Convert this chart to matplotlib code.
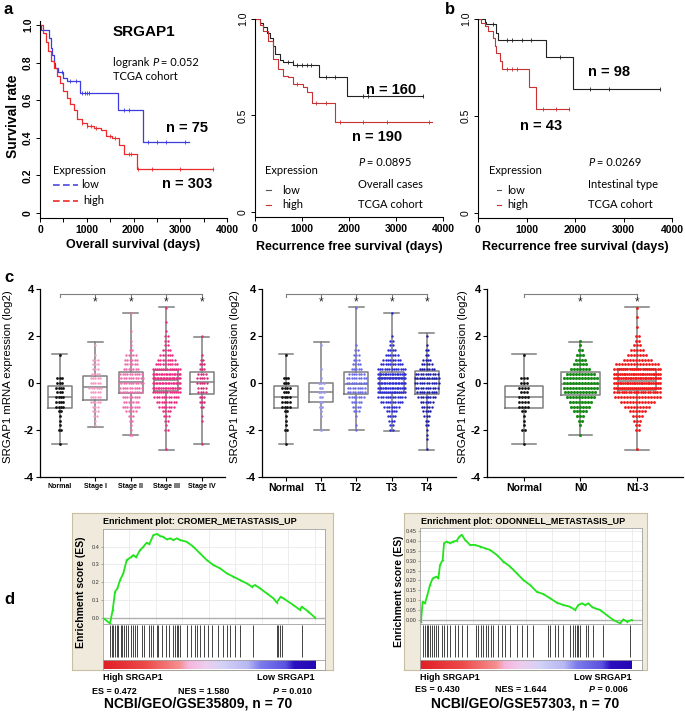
import numpy as np
import matplotlib
matplotlib.use("Agg")
import matplotlib.pyplot as plt
from matplotlib.colors import LinearSegmentedColormap

plt.rcParams['font.family'] = ['Liberation Sans', 'DejaVu Sans']
plt.rcParams['axes.unicode_minus'] = False
CAL = ['Lato', 'DejaVu Sans']

# ---------------- data: Kaplan-Meier ----------------
os_low_t = [0, 30, 200, 230, 260, 290, 330, 380, 500, 570, 856, 1676, 2196, 3194]
os_low_s = [1.0, 0.975, 0.93, 0.88, 0.84, 0.80, 0.77, 0.75, 0.72, 0.70, 0.637, 0.548, 0.38, 0.38]
os_low_cens = [480, 650, 760, 900, 960, 1000, 1050, 1800, 1900, 2300, 2500, 2700, 3100]
os_high_t = [0, 60, 120, 180, 240, 300, 360, 420, 500, 580, 650, 720, 800, 900, 1000, 1150,
             1300, 1420, 1550, 1700, 1800, 2070, 3710]
os_high_s = [1.0, 0.96, 0.91, 0.86, 0.81, 0.77, 0.73, 0.69, 0.65, 0.61, 0.58, 0.55, 0.50, 0.48,
             0.465, 0.45, 0.44, 0.41, 0.40, 0.36, 0.315, 0.235, 0.235]
os_high_cens = [900, 1000, 1100, 1200, 1500, 1600, 1900, 1950, 2100, 2400, 3000, 3700]

rfs_low_t = [0, 100, 177, 250, 319, 380, 426, 532, 603, 815, 1355, 1965, 3568]
rfs_low_s = [1.0, 0.98, 0.96, 0.93, 0.90, 0.86, 0.82, 0.79, 0.775, 0.76, 0.70, 0.60, 0.60]
rfs_low_cens = [700, 800, 900, 1000, 1100, 1200, 1500, 1700, 2300, 2400, 3568]
rfs_high_t = [0, 100, 177, 284, 390, 497, 603, 709, 815, 1028, 1099, 1206, 1703, 3760]
rfs_high_s = [1.0, 0.97, 0.937, 0.884, 0.795, 0.742, 0.706, 0.70, 0.661, 0.65, 0.62, 0.565,
              0.465, 0.465]
rfs_high_cens = [900, 1300, 1500, 1800, 2300, 2800, 3700]

int_low_t = [0, 138, 173, 345, 380, 414, 1401, 1967, 3747]
int_low_s = [1.0, 0.985, 0.973, 0.973, 0.93, 0.89, 0.805, 0.64, 0.64]
int_low_cens = [300, 600, 700, 900, 1100, 1700, 2300, 2700, 3747]
int_high_t = [0, 69, 138, 207, 310, 345, 380, 449, 504, 1049, 1194, 1884]
int_high_s = [1.0, 0.98, 0.964, 0.94, 0.90, 0.86, 0.827, 0.785, 0.74, 0.65, 0.537, 0.537]
int_high_cens = [600, 700, 800, 1350, 1600, 1884]

# ---------------- data: expression dot plots ----------------
levels = [-2.8, -2.6, -2.4, -2.2, -2.0, -1.8, -1.6, -1.4, -1.2, -1.0, -0.8, -0.6, -0.4, -0.2,
          0.0, 0.2, 0.4, 0.6, 0.8, 1.0, 1.2, 1.4, 1.6, 1.8, 2.0, 2.2, 2.4, 2.6, 2.8, 3.0, 3.2]
cnt_normal  = [0,1,0,0,2,1,1,1,2,4,4,4,3,4,3,3,0,0,0,0,1,0,0,0,0,0,0,0,0,0,0]
cnt_stage1  = [0,0,0,0,0,1,1,2,3,3,5,5,5,6,5,5,4,3,3,3,1,0,1,0,0,0,0,0,0,0,0]
cnt_stage2  = [0,0,0,2,1,1,2,3,5,8,7,8,10,10,11,11,10,7,6,6,5,2,1,1,0,1,0,0,0,1,0]
cnt_stage3  = [1,0,0,0,2,1,2,3,4,7,9,11,14,17,19,20,18,14,10,8,6,4,2,2,2,1,0,1,0,0,1]
cnt_stage4  = [0,1,0,0,0,0,1,1,0,2,3,3,4,4,5,5,4,3,3,2,1,0,0,0,1,0,0,0,0,0,0]
cnt_t1      = [0,0,0,0,1,0,0,1,1,2,2,2,3,2,3,1,0,1,0,0,0,0,1,0,0,0,0,0,0,0,0]
cnt_t2      = [0,0,0,0,1,1,0,1,3,4,5,7,8,8,9,9,7,5,4,3,3,2,1,0,0,0,0,0,0,0,1]
cnt_t3      = [0,0,0,0,2,2,3,4,5,7,10,12,15,17,19,19,17,13,10,8,6,4,2,2,1,0,0,0,0,1,0]
cnt_t4      = [1,0,1,1,1,2,2,3,4,5,6,8,9,10,11,11,10,7,5,4,2,2,1,0,1,0,0,0,0,0,0]
cnt_n0      = [0,0,0,1,0,1,2,3,5,7,8,10,11,12,12,12,10,7,5,4,3,2,1,1,0,0,0,0,0,0,0]
cnt_n13     = [1,0,0,0,2,2,3,4,6,9,12,16,20,24,27,28,26,22,15,10,7,5,3,2,2,0,1,0,1,0,1]

# box statistics: (low whisker, q1, median, q3, high whisker)
box_normal = (-2.58, -1.05, -0.60, -0.14, 1.23)
box_stage1 = (-1.88, -0.71, -0.17, 0.30, 1.74)
box_stage2 = (-2.23, -0.44, 0.03, 0.45, 2.98)
box_stage3 = (-2.85, -0.33, 0.13, 0.55, 3.24)
box_stage4 = (-2.58, -0.47, 0.03, 0.45, 1.94)
box_t1 = (-1.98, -0.80, -0.38, 0.00, 1.74)
box_t2 = (-1.98, -0.48, -0.03, 0.47, 3.23)
box_t3 = (-2.06, -0.43, 0.20, 0.47, 3.00)
box_t4 = (-2.84, -0.47, 0.18, 0.50, 2.12)
box_n0 = (-2.23, -0.53, -0.06, 0.45, 1.76)
box_n13 = (-2.83, -0.28, 0.08, 0.58, 3.24)

stage_labels = ['Normal', 'Stage I', 'Stage II', 'Stage III', 'Stage IV']
t_labels = ['Normal', 'T1', 'T2', 'T3', 'T4']
n_labels = ['Normal', 'N0', 'N1-3']

# ---------------- data: GSEA ----------------
g1_rank = [0.0, 3.45, 4.71, 5.81, 6.91, 8.16, 9.73, 11.30, 13.19, 14.44, 15.70, 17.58, 19.15,
           20.72, 21.98, 23.86, 25.75, 27.00, 28.57, 30.14, 31.71, 33.28, 34.85, 36.42, 39.56,
           42.70, 45.84, 48.98, 52.12, 55.26, 58.40, 61.54, 64.68, 67.82, 70.17, 71.74, 74.10,
           77.24, 80.38, 81.95, 83.83, 85.09, 89.80, 92.94, 93.72, 96.86, 100.0]
g1_es = [0.0, -0.033, 0.043, 0.146, 0.165, 0.212, 0.25, 0.325, 0.34, 0.353, 0.34, 0.381, 0.40,
         0.423, 0.415, 0.466, 0.472, 0.46, 0.456, 0.441, 0.447, 0.438, 0.447, 0.438, 0.428,
         0.40, 0.362, 0.325, 0.297, 0.278, 0.25, 0.231, 0.212, 0.193, 0.175, 0.184, 0.165,
         0.137, 0.109, 0.085, 0.118, 0.109, 0.071, 0.043, 0.062, 0.034, 0.0]
g1_hits = [3.5, 4.2, 5.0, 5.8, 6.6, 7.4, 8.5, 9.3, 10.2, 11.0, 11.9, 13.3, 14.1, 15.2, 16.0,
           18.4, 19.5, 22.0, 22.6, 23.5, 25.4, 26.2, 27.8, 29.8, 31.4, 33.3, 34.1, 34.9, 35.6,
           36.4, 39.9, 41.4, 43.5, 44.6, 45.8, 47.9, 49.8, 51.3, 54.5, 56.5, 58.4, 60.0, 62.3,
           64.7, 71.0, 81.9, 82.7, 83.5, 84.3, 93.7]
g2_rank = [0.0, 0.47, 1.26, 2.36, 3.46, 4.72, 5.98, 7.09, 7.87, 8.66, 9.45, 10.71, 11.34, 12.60,
           14.17, 15.75, 17.32, 18.58, 19.69, 21.26, 23.62, 25.98, 28.35, 30.71, 33.07, 36.22,
           39.37, 42.52, 45.67, 48.82, 51.97, 55.12, 58.27, 61.42, 64.57, 67.72, 70.87, 73.23,
           74.80, 76.38, 77.95, 79.53, 81.10, 82.68, 85.04, 88.19, 91.34, 94.49, 96.06, 97.64, 100.0]
g2_es = [0.0, -0.008, 0.093, 0.084, 0.126, 0.177, 0.21, 0.216, 0.219, 0.21, 0.278, 0.303, 0.388,
         0.396, 0.388, 0.396, 0.401, 0.421, 0.430, 0.405, 0.379, 0.379, 0.371, 0.362, 0.354,
         0.329, 0.295, 0.27, 0.236, 0.202, 0.177, 0.143, 0.131, 0.11, 0.088, 0.076, 0.067,
         0.051, 0.076, 0.084, 0.076, 0.084, 0.067, 0.059, 0.051, 0.025, 0.0, -0.017, 0.003,
         -0.008, 0.0]
g2_hits = [1.6, 2.4, 3.1, 3.9, 4.7, 5.8, 6.6, 7.4, 8.7, 10.2, 11.3, 12.6, 14.2, 16.5, 18.1, 19.7,
           22.0, 26.5, 27.6, 28.7, 29.9, 31.2, 32.3, 33.4, 34.6, 37.0, 38.6, 40.2, 42.5, 45.7,
           48.0, 50.4, 53.5, 60.6, 61.4, 63.8, 65.4, 67.7, 70.9, 72.4, 73.2, 74.0, 74.8, 75.6,
           78.4, 79.5, 81.9, 86.6, 99.2]

# ---------------- figure ----------------
W, H = 685, 712
fig = plt.figure(figsize=(W / 100, H / 100), dpi=100)


def add_ax(l, t, r, b, **kw):
    return fig.add_axes([l / W, 1 - b / H, (r - l) / W, (b - t) / H], **kw)


def surv_at(t, s, x):
    idx = np.searchsorted(np.asarray(t), np.asarray(x), side='right') - 1
    return np.asarray(s)[idx]


def km_axes(l, r, y1, y0, ylo, yhi):
    sc = y0 - y1
    ax = add_ax(l, y0 - yhi * sc, r, y0 - ylo * sc)
    ax.set_xlim(0, 4000)
    ax.set_ylim(ylo, yhi)
    for sp in ['top', 'right']:
        ax.spines[sp].set_visible(False)
    for sp in ['left', 'bottom']:
        ax.spines[sp].set_linewidth(0.8)
    ax.patch.set_alpha(0)
    return ax


def km_curve(ax, t, s, cens, color, lw=0.9):
    ax.step(t, s, where='post', color=color, lw=lw)
    ax.plot(cens, surv_at(t, s, cens), ls='none', marker='|', ms=2.5, mew=0.6, color=color)


# ---- a1 overall survival
ax = km_axes(40, 227, 25, 213, -0.027, 1.02)
km_curve(ax, os_low_t, os_low_s, os_low_cens, '#3c3ce0')
km_curve(ax, os_high_t, os_high_s, os_high_cens, '#ee2a2a')
ax.set_yticks([0, 0.2, 0.4, 0.6, 0.8, 1.0])
ax.set_yticklabels(['0', '0.2', '0.4', '0.6', '0.8', '1.0'], rotation=90, va='center',
                   fontweight='bold', fontsize=7.5)
ax.set_xticks(np.arange(0, 4001, 500))
ax.set_xticklabels(['0', '', '1000', '', '2000', '', '3000', '', '4000'], fontweight='bold',
                   fontsize=7.5)
ax.tick_params(length=3, width=0.7, pad=2)

# ---- a2 recurrence free survival, all
ax = km_axes(255, 443, 19, 212, -0.026, 1.0)
km_curve(ax, rfs_low_t, rfs_low_s, rfs_low_cens, '#222222', lw=0.8)
km_curve(ax, rfs_high_t, rfs_high_s, rfs_high_cens, '#c83232', lw=0.8)
ax.set_yticks([0, 0.5, 1.0])
ax.set_yticklabels(['0', '0.5', '1.0'], rotation=90, va='center', fontsize=7.5)
ax.set_xticks([0, 1000, 2000, 3000, 4000])
ax.set_xticklabels(['0', '1000', '2000', '3000', '4000'], fontweight='bold', fontsize=7.5)
ax.tick_params(length=3, width=0.7, pad=2)

# ---- b recurrence free survival, intestinal
ax = km_axes(478, 672, 19, 213, -0.026, 1.0)
km_curve(ax, int_low_t, int_low_s, int_low_cens, '#222222', lw=0.8)
km_curve(ax, int_high_t, int_high_s, int_high_cens, '#c83232', lw=0.8)
ax.set_yticks([0, 0.5, 1.0])
ax.set_yticklabels(['0', '0.5', '1.0'], rotation=90, va='center', fontsize=7.5)
ax.set_xticks([0, 1000, 2000, 3000, 4000])
ax.set_xticklabels(['0', '1000', '2000', '3000', '4000'], fontweight='bold', fontsize=7.5)
ax.tick_params(length=3, width=0.7, pad=2)


# ---------------- panel c ----------------
def cpanel(l, r, xlim, labels, counts, boxes, colors, step_px, maxw, xfs, sizes):
    ax = add_ax(l, 289, r, 477)
    ax.set_xlim(*xlim)
    ax.set_ylim(-4, 4)
    ppu = (r - l) / (xlim[1] - xlim[0])
    step0 = step_px / ppu
    for sp in ['top', 'right']:
        ax.spines[sp].set_visible(False)
    ax.spines['left'].set_linewidth(0.9)
    ax.spines['bottom'].set_linewidth(0.9)
    ax.patch.set_alpha(0)
    stats = []
    for i, b in enumerate(boxes):
        stats.append(dict(whislo=b[0], q1=b[1], med=b[2], q3=b[3], whishi=b[4], fliers=[]))
    gp = dict(color='#7f7f7f', lw=1.1)
    ax.bxp(stats, positions=list(range(len(boxes))), widths=0.68, showfliers=False,
           boxprops=gp, whiskerprops=gp, capprops=gp, medianprops=gp, capwidths=0.42,
           manage_ticks=False, zorder=2)
    for i, cnts in enumerate(counts):
        xs, ys = [], []
        for lv, n in zip(levels, cnts):
            if n == 0:
                continue
            st = step0 if n < 2 else min(step0, maxw / (n - 1))
            off = (np.arange(n) - (n - 1) / 2) * st
            xs.extend(i + off)
            ys.extend([lv] * n)
        ax.scatter(xs, ys, s=sizes[i], color=colors[i], lw=0, zorder=3)
    # significance bracket
    n = len(labels)
    ax.plot([0, n - 1], [3.8, 3.8], color='#7f7f7f', lw=0.8, zorder=2, clip_on=False)
    for i in range(n):
        ax.plot([i, i], [3.8, 3.66], color='#7f7f7f', lw=0.8, zorder=2, clip_on=False)
    for i in range(1, n):
        ax.text(i, 3.42, '*', ha='center', va='center', fontsize=8.5, color='#222222')
    ax.set_yticks([-4, -2, 0, 2, 4])
    ax.set_yticklabels(['-4', '-2', '0', '2', '4'], fontweight='bold', fontsize=8)
    ax.set_xticks(range(n))
    ax.set_xticklabels(labels, fontweight='bold', fontsize=xfs)
    ax.tick_params(length=3, width=0.8, pad=1.5)
    return ax


cpanel(40, 225, (-0.56, 4.65), stage_labels,
       [cnt_normal, cnt_stage1, cnt_stage2, cnt_stage3, cnt_stage4],
       [box_normal, box_stage1, box_stage2, box_stage3, box_stage4],
       ['#111111', '#f59ac8', '#f06eae', '#ee2a82', '#d42c78'], 2.4, 0.78, 5,
       [4, 3, 3, 3, 3])
cpanel(262, 456, (-0.68, 4.83), t_labels,
       [cnt_normal, cnt_t1, cnt_t2, cnt_t3, cnt_t4],
       [box_normal, box_t1, box_t2, box_t3, box_t4],
       ['#111111', '#9a9ae6', '#6c6ce4', '#2a2ad2', '#1c1ca8'], 2.4, 0.78, 7.5,
       [4, 4, 3, 3, 3])
cpanel(487, 683, (-0.65, 2.81), n_labels,
       [cnt_normal, cnt_n0, cnt_n13],
       [box_normal, box_n0, box_n13],
       ['#111111', '#1a8c1a', '#f01818'], 3.0, 0.8, 7.5, [4, 5, 4])

# ---------------- panel d ----------------
gsea_cmap = LinearSegmentedColormap.from_list('gsea', [
    (0.0, '#e01e26'), (0.2, '#ee4a4a'), (0.36, '#f59090'), (0.40, '#f6b4dc'),
    (0.48, '#eecdf0'), (0.56, '#d4d2f6'), (0.68, '#b8b8f4'), (0.74, '#7c7cec'),
    (0.86, '#5a50e0'), (0.90, '#2c10c0'), (1.0, '#2408b4')])


def gsea(bg, l, r, t_es, b_es, b_hit, b_cb, rank, es, hits, yticks, ylim, fmt):
    axb = add_ax(*bg)
    axb.set_facecolor('#efeadb')
    axb.set_xticks([])
    axb.set_yticks([])
    for sp in axb.spines.values():
        sp.set_color('#c8bfa2')
        sp.set_linewidth(0.8)
    xmax = 104.7
    ax = add_ax(l, t_es, r, b_es)
    ax.set_facecolor('white')
    ax.set_xlim(0, xmax)
    ax.set_ylim(*ylim)
    ax.set_xticks(np.arange(0, 101, 12.5))
    ax.set_xticklabels([])
    ax.set_yticks(yticks)
    ax.set_yticklabels([fmt % v for v in yticks], fontsize=4, color='#333333')
    ax.tick_params(axis='y', length=1.5, width=0.5, pad=1, color='#888888')
    ax.tick_params(axis='x', length=0)
    ax.grid(True, color='#e6e6e6', lw=0.5)
    ax.axhline(0, color='#b0b0b0', lw=1.0)
    ax.plot(rank, es, color='#22e41c', lw=1.3, marker='o', ms=1.2, mew=0)
    for sp in ax.spines.values():
        sp.set_color('#a0a0a0')
        sp.set_linewidth(0.6)
    axh = add_ax(l, b_es, r, b_hit)
    axh.set_xlim(0, xmax)
    axh.set_ylim(0, 1)
    axh.vlines(hits, 0.08, 0.97, color='#222222', lw=0.7, alpha=0.85)
    axh.set_xticks([])
    axh.set_yticks([])
    for sp in axh.spines.values():
        sp.set_color('#a0a0a0')
        sp.set_linewidth(0.6)
    axc = add_ax(l, b_hit, r, b_cb)
    axc.set_xlim(0, xmax)
    axc.set_ylim(0, 1)
    axc.imshow(np.linspace(0, 1, 256)[None, :], cmap=gsea_cmap, aspect='auto',
               extent=[0, 100, 0, 1])
    axc.set_xlim(0, xmax)
    axc.set_xticks([])
    axc.set_yticks([])
    for sp in axc.spines.values():
        sp.set_color('#a0a0a0')
        sp.set_linewidth(0.6)


gsea((71.7, 513, 333, 670), 102.7, 325, 529, 624, 660, 669.5, g1_rank, g1_es, g1_hits,
     [0.0, 0.1, 0.2, 0.3, 0.4], (-0.036, 0.50), '%.1f')
gsea((404, 512.7, 646.7, 670), 420, 641.7, 528.3, 624, 660, 669.5, g2_rank, g2_es, g2_hits,
     [0.0, 0.05, 0.10, 0.15, 0.20, 0.25, 0.30, 0.35, 0.40, 0.45], (-0.02, 0.463), '%.2f')

# ---------------- overlay texts ----------------
ov = fig.add_axes([0, 0, 1, 1], zorder=20)
ov.set_xlim(0, W)
ov.set_ylim(H, 0)
ov.axis('off')
ov.patch.set_alpha(0)


def T(x, y, s, **kw):
    kw.setdefault('va', 'center')
    return ov.text(x, y, s, **kw)


def rich(x, y, parts, ha='left', **kw):
    """parts: list of (text, extra kwargs)."""
    if ha == 'left':
        t0 = ov.text(x, y, parts[0][0], ha='left', va='center', **{**kw, **parts[0][1]})
        prev = t0
        for s, ex in parts[1:]:
            prev = ov.annotate(s, xy=(1, 0), xycoords=prev, ha='left', va='bottom',
                               **{**kw, **ex})
    else:
        t0 = ov.text(x, y, parts[-1][0], ha='right', va='center', **{**kw, **parts[-1][1]})
        prev = t0
        for s, ex in parts[-2::-1]:
            prev = ov.annotate(s, xy=(0, 0), xycoords=prev, ha='right', va='bottom',
                               **{**kw, **ex})


IT = dict(fontstyle='italic')
# panel letters
for lx, ly, s in [(4, 10, 'a'), (445, 10, 'b'), (4, 277, 'c'), (4, 600, 'd')]:
    T(lx, ly, s, fontsize=12, fontweight='bold')

# a1 texts
T(13, 116, 'Survival rate', rotation=90, ha='center', fontsize=10, fontweight='bold')
T(133, 245, 'Overall survival (days)', ha='center', fontsize=9, fontweight='bold')
T(113, 32, 'SRGAP1', fontsize=11, fontweight='bold')
rich(113, 62, [('logrank ', {}), ('P', IT), (' = 0.052', {})], family=CAL, fontsize=8)
T(113, 76, 'TCGA cohort', family=CAL, fontsize=8)
T(166, 128, 'n = 75', fontsize=10.5, fontweight='bold')
T(162, 184, 'n = 303', fontsize=10.5, fontweight='bold')
T(53, 170, 'Expression', family=CAL, fontsize=8)
T(81, 185, 'low', family=CAL, fontsize=8)
T(83, 201, 'high', family=CAL, fontsize=8)
ov.plot([53, 78], [185, 185], color='#4a4ae0', lw=1.2, ls=(0, (4, 2)))
ov.plot([53, 78], [201, 201], color='#ee2a2a', lw=1.2, ls=(0, (4, 2)))

# a2 texts
T(349, 247, 'Recurrence free survival (days)', ha='center', fontsize=9, fontweight='bold')
T(366, 90, 'n = 160', fontsize=10.5, fontweight='bold')
T(352, 137, 'n = 190', fontsize=10.5, fontweight='bold')
rich(358, 163, [('P', IT), (' = 0.0895', {})], family=CAL, fontsize=8)
T(358, 185, 'Overall cases', family=CAL, fontsize=8)
T(358, 205, 'TCGA cohort', family=CAL, fontsize=8)
T(265, 170, 'Expression', family=CAL, fontsize=8)
T(282, 190, 'low', family=CAL, fontsize=8)
T(282, 205, 'high', family=CAL, fontsize=8)
ov.plot([266, 271], [190, 190], color='#555555', lw=0.8)
ov.plot([266, 271], [205, 205], color='#c83232', lw=0.8)

# b texts
T(575, 247, 'Recurrence free survival (days)', ha='center', fontsize=9, fontweight='bold')
T(588, 72, 'n = 98', fontsize=10.5, fontweight='bold')
T(520, 126, 'n = 43', fontsize=10.5, fontweight='bold')
rich(588, 163, [('P', IT), (' = 0.0269', {})], family=CAL, fontsize=8)
T(588, 185, 'Intestinal type', family=CAL, fontsize=8)
T(588, 205, 'TCGA cohort', family=CAL, fontsize=8)
T(489, 170, 'Expression', family=CAL, fontsize=8)
T(507, 190, 'low', family=CAL, fontsize=8)
T(507, 205, 'high', family=CAL, fontsize=8)
ov.plot([497, 501], [190, 190], color='#555555', lw=0.8)
ov.plot([497, 501], [205, 205], color='#c83232', lw=0.8)

# c y labels
for xl in (8, 235, 463):
    T(xl, 377, 'SRGAP1 mRNA expression (log2)', rotation=90, ha='center', fontsize=8.2)

# d texts
T(200, 522, 'Enrichment plot: CROMER_METASTASIS_UP', ha='center', fontsize=6.5,
  fontweight='bold')
T(523, 521, 'Enrichment plot: ODONNELL_METASTASIS_UP', ha='center', fontsize=6.5,
  fontweight='bold')
T(81, 592, 'Enrichment score (ES)', rotation=90, ha='center', fontsize=7.5, fontweight='bold')
T(399, 591, 'Enrichment score (ES)', rotation=90, ha='center', fontsize=7.5, fontweight='bold')

BF = dict(fontsize=6.5, fontweight='bold')
T(103, 677, 'High SRGAP1', **BF)
T(315, 677, 'Low SRGAP1', ha='right', **BF)
T(92, 691, 'ES = 0.472', **BF)
T(178, 691, 'NES = 1.580', **BF)
rich(312, 691, [('P', IT), (' = 0.010', {})], ha='right', **BF)
T(198, 703, 'NCBI/GEO/GSE35809, n = 70', ha='center', fontsize=10, fontweight='bold')

T(420, 677, 'High SRGAP1', **BF)
T(632, 677, 'Low SRGAP1', ha='right', **BF)
T(415, 690, 'ES = 0.430', **BF)
T(495, 690, 'NES = 1.644', **BF)
rich(628, 690, [('P', IT), (' = 0.006', {})], ha='right', **BF)
T(525, 703, 'NCBI/GEO/GSE57303, n = 70', ha='center', fontsize=10, fontweight='bold')

fig.savefig('out.png', dpi=100)
